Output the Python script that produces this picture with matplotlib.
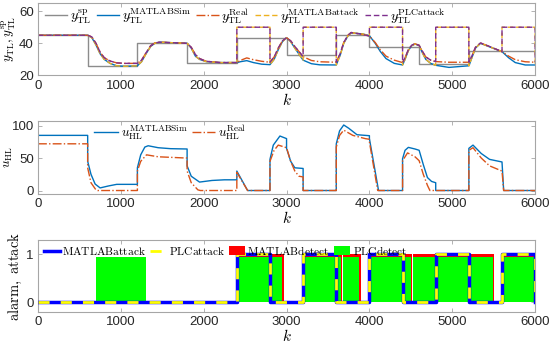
import matplotlib
matplotlib.use("Agg")
import matplotlib.pyplot as plt
import numpy as np

plt.rcParams["mathtext.fontset"] = "cm"
plt.rcParams["font.family"] = ["Liberation Sans", "DejaVu Sans"]

# setpoint (step signal)
sp_k = [0, 600, 1200, 1800, 2400, 3000, 3600, 4000, 4600, 5200, 6000]
sp_v = [45, 26, 40, 28, 43, 33, 45, 38, 27, 35, 35]

# attack windows, attacked measurement value
attack_windows = [(2400, 2800), (3200, 3600), (4000, 4400), (4800, 5200), (5600, 6000)]
attack_level = 50

# y_TL curves
k_y = [0, 600, 650, 700, 750, 800, 870, 950, 1050, 1200, 1250, 1310, 1360, 1410, 1470,
       1600, 1800, 1850, 1900, 1950, 2030, 2200, 2400, 2450, 2520, 2600, 2700, 2800,
       2850, 2900, 2950, 3000, 3050, 3100, 3200, 3300, 3400, 3600, 3650, 3690, 3740,
       3780, 3920, 4000, 4070, 4130, 4200, 4300, 4400, 4430, 4470, 4510, 4550, 4600,
       4640, 4680, 4740, 4800, 4960, 5200, 5240, 5280, 5340, 5440, 5600, 5680, 5760,
       5880, 6000]
y_sim = [45, 45, 43.5, 39, 33.5, 30, 27.5, 26, 25.7, 26, 28.5, 34, 38, 40, 40.7,
         40.4, 40, 37, 32, 30, 28.6, 28, 28, 28.6, 29.2, 28, 27, 26.7,
         30, 36, 41, 43.5, 41, 37, 29.5, 27.3, 26.6, 26.5, 33, 40, 44.5,
         46.5, 45.8, 44.7, 40, 35, 30.5, 27.5, 26.5, 30, 35.5, 38.5, 39.5, 38.7,
         34, 30, 27.5, 26.3, 25, 26, 31.5, 37, 40, 38, 34.8, 31, 28,
         26.5, 26.5]
y_real = [45, 45, 44, 40, 34.5, 31, 29, 27.8, 27.5, 27.5, 29.5, 34.5, 38.5, 40.2, 40.7,
          40.4, 40, 37.5, 33, 30.5, 28.8, 28, 28, 29.5, 30.9, 29.8, 28.8, 28.2,
          31.5, 37, 41.5, 43.5, 41.5, 38, 31.7, 29.3, 28.5, 28.2, 34, 40.5, 45,
          46.7, 45.5, 44.5, 40.5, 36, 32, 29.5, 28, 31, 36, 38.8, 39.7, 38.7,
          35, 31.5, 29.5, 28.6, 28.2, 28.2, 32.5, 37.5, 40.2, 38.2, 34.8, 32, 29.8,
          28.5, 28.2]

# u_HL curves
k_u_sim = [0, 600, 600, 640, 690, 750, 850, 950, 1200, 1200, 1240, 1290, 1330, 1450,
           1600, 1800, 1800, 1850, 1950, 2100, 2250, 2400, 2400, 2530, 2800, 2800,
           2840, 2920, 3000, 3000, 3050, 3100, 3200, 3200, 3600, 3600, 3640, 3690,
           3750, 3850, 4000, 4000, 4110, 4400, 4400, 4430, 4470, 4550, 4600, 4650,
           4700, 4750, 4800, 4800, 5200, 5200, 5250, 5350, 5450, 5600, 5620, 6000]
u_sim = [85, 85, 45, 25, 10, 4, 7, 9.5, 9.5, 35, 55, 67, 69, 66,
         64.5, 64, 38, 22, 13, 15.5, 16.5, 16.5, 30, 0, 0, 48,
         70, 84, 80, 65, 45, 35, 34, 0, 0, 72, 92, 101,
         96, 86, 84.5, 80, 0, 0, 49, 62, 66.5, 64, 62, 40,
         20, 14, 12, 0, 0, 65, 70, 57, 48, 44, 0, 0]
k_u_real = [0, 600, 600, 640, 700, 720, 1200, 1200, 1240, 1310, 1450, 1800, 1800, 1850,
            1930, 1960, 2400, 2400, 2530, 2800, 2800, 2850, 2900, 3000, 3050, 3100,
            3150, 3200, 3200, 3600, 3600, 3640, 3690, 3800, 3950, 4000, 4000, 4100,
            4400, 4400, 4460, 4550, 4600, 4650, 4700, 4730, 5200, 5200, 5250, 5350,
            5450, 5600, 5620, 6000]
u_real = [72, 72, 35, 12, 1, 0, 0, 30, 45, 55, 52, 50, 30, 12,
          1, 0, 0, 28, 0, 0, 45, 62, 70, 66, 45, 30,
          22, 21, 0, 0, 67, 85, 93, 85, 80, 79, 75, 0,
          0, 46, 58, 52, 46, 25, 8, 0, 0, 62, 66, 50,
          38, 30, 0, 0]

# detection intervals (start, end)
matlab_detect = [(2400, 2970), (3200, 3670), (3680, 3895), (4000, 4515), (4520, 5500), (5600, 6000)]
plc_detect = [(700, 1300), (2400, 2950), (3200, 3660), (3680, 3880), (4000, 4500),
              (4525, 5490), (5600, 5990)]
matlab_detect_h = 1.0
plc_detect_h = 0.95

C_BLUE = "#0072BD"
C_ORANGE = "#D95319"
C_YELLOW = "#EDB120"
C_PURPLE = "#7E2F8E"


def with_attack(k, v):
    lookup = dict(zip(k, v))
    out_k, out_v = [], []
    for kk, vv in zip(k, v):
        if any(a < kk < b for a, b in attack_windows):
            continue
        out_k.append(kk)
        out_v.append(vv)
        for a, b in attack_windows:
            if kk == a:
                out_k += [a, b]
                out_v += [attack_level, attack_level]
                if b in lookup:
                    out_k.append(b)
                    out_v.append(lookup[b])
    return out_k, out_v


def attack_signal():
    ks, vs = [0], [0]
    for a, b in attack_windows:
        ks += [a, a, b, b]
        vs += [0, 1, 1, 0]
    return ks, vs


def style(ax):
    for s in ax.spines.values():
        s.set_color("#a6a6a6")
        s.set_linewidth(0.8)
    ax.tick_params(direction="in", top=True, right=True, length=3, width=0.6,
                   color="#a6a6a6", labelcolor="#262626", labelsize=9.5, pad=3)
    ax.set_xlim(0, 6000)
    ax.set_xticks(range(0, 6001, 1000))
    ax.set_xlabel(r"$k$", fontsize=11, labelpad=0)


fig = plt.figure(figsize=(5.5, 3.46), dpi=100)
ax1 = fig.add_axes([0.069, 0.782, 0.904, 0.209])
ax2 = fig.add_axes([0.069, 0.440, 0.904, 0.210])
ax3 = fig.add_axes([0.069, 0.099, 0.904, 0.207])

# top panel
ka, va = with_attack(k_y, y_sim)
kp, vp = with_attack(k_y, y_real)
ax1.plot(sp_k, sp_v, color="#8c8c8c", lw=1, drawstyle="steps-post", label=r"$y_{\rm TL}^{\rm sp}$")
ax1.plot(k_y, y_sim, color=C_BLUE, lw=1, label=r"$y_{\rm TL}^{\rm MATLABSim}$")
ax1.plot(k_y, y_real, color=C_ORANGE, lw=1, ls="-.", label=r"$y_{\rm TL}^{\rm Real}$")
ax1.plot(ka, va, color=C_YELLOW, lw=1, ls=(0, (4, 2)), label=r"$y_{\rm TL}^{\rm MATLABattack}$")
ax1.plot(kp, vp, color=C_PURPLE, lw=1, ls=(0, (4, 2)), label=r"$y_{\rm TL}^{\rm PLCattack}$")
ax1.set_ylim(20, 65)
ax1.set_yticks([20, 40, 60])
ax1.set_ylabel(r"$y_{\rm TL}, y_{\rm TL}^{\rm sp}$", fontsize=9.5)
ax1.yaxis.set_label_coords(-0.041, 0.5)
style(ax1)
ax1.legend(loc="upper left", bbox_to_anchor=(0.0, 1.06), ncol=5, frameon=False,
           fontsize=10, handlelength=1.6, handletextpad=0.2, columnspacing=0.4,
           borderaxespad=0.1)

# middle panel
ax2.plot(k_u_sim, u_sim, color=C_BLUE, lw=1, label=r"$u_{\rm HL}^{\rm MATLABSim}$")
ax2.plot(k_u_real, u_real, color=C_ORANGE, lw=1, ls="-.", label=r"$u_{\rm HL}^{\rm Real}$")
ax2.set_ylim(-5, 107)
ax2.set_yticks([0, 50, 100])
ax2.set_ylabel(r"$u_{\rm HL}$", fontsize=9.5)
ax2.yaxis.set_label_coords(-0.046, 0.5)
style(ax2)
ax2.legend(loc="upper left", bbox_to_anchor=(0.1, 1.07), ncol=2, frameon=False,
           fontsize=9.5, handlelength=1.8, handletextpad=0.2, columnspacing=0.3,
           borderaxespad=0.1)

# bottom panel
ak, av = attack_signal()
ax3.bar([a for a, b in matlab_detect], matlab_detect_h, width=[b - a for a, b in matlab_detect],
        align="edge", color="#ff0000", label=r"$\mathrm{MATLABdetect}$", zorder=1)
ax3.bar([a for a, b in plc_detect], plc_detect_h, width=[b - a for a, b in plc_detect],
        align="edge", color="#00ff00", label=r"$\mathrm{PLCdetect}$", zorder=2)
ax3.plot(ak, av, color="#0000ff", lw=2.5, label=r"$\mathrm{MATLABattack}$", zorder=3)
ax3.plot(ak, av, color="#ffff00", lw=2, ls=(0, (4, 4)), label=r"$\mathrm{PLCattack}$", zorder=4)
ax3.set_ylim(-0.2, 1.3)
ax3.set_yticks([0, 1])
ax3.set_ylabel(r"$\mathrm{alarm,\ attack}$", fontsize=10.5)
ax3.yaxis.set_label_coords(-0.028, 0.5)
style(ax3)
h, lab = ax3.get_legend_handles_labels()
hd = dict(zip(lab, h))
order = [r"$\mathrm{MATLABattack}$", r"$\mathrm{PLCattack}$",
         r"$\mathrm{MATLABdetect}$", r"$\mathrm{PLCdetect}$"]
ax3.legend([hd[o] for o in order], order, loc="upper left",
           bbox_to_anchor=(0.0, 1.03), ncol=4, frameon=False, fontsize=8.2,
           handlelength=1.4, handleheight=0.8, handletextpad=0.2, columnspacing=0.4,
           borderaxespad=0.1)

fig.savefig("out.png", dpi=100)
